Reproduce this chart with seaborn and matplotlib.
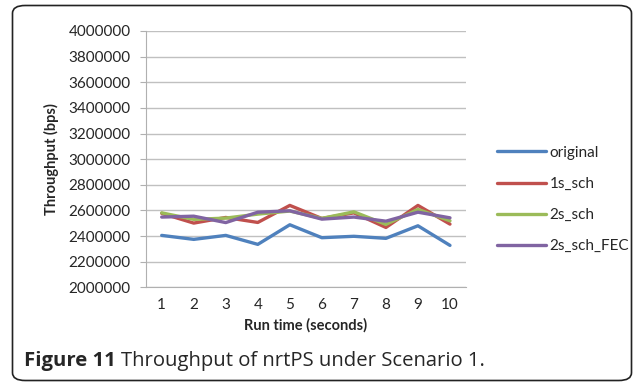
import matplotlib
matplotlib.use("Agg")
import matplotlib.pyplot as plt
from matplotlib.patches import FancyBboxPatch
import seaborn as sns
import pandas as pd

run_time = [1, 2, 3, 4, 5, 6, 7, 8, 9, 10]
original = [2405000, 2374000, 2405000, 2335000, 2488000, 2387000, 2398000, 2382000, 2480000, 2327000]
s1_sch = [2577000, 2501000, 2545000, 2506000, 2639000, 2537000, 2581000, 2467000, 2639000, 2493000]
s2_sch = [2581000, 2530000, 2540000, 2571000, 2595000, 2538000, 2589000, 2491000, 2608000, 2519000]
s2_sch_fec = [2548000, 2555000, 2505000, 2586000, 2597000, 2532000, 2548000, 2516000, 2586000, 2542000]
series_names = ["original", "1s_sch", "2s_sch", "2s_sch_FEC"]
colors = ["#4F81BD", "#C0504D", "#9BBB59", "#8064A2"]
y_ticks = [2000000, 2200000, 2400000, 2600000, 2800000, 3000000,
           3200000, 3400000, 3600000, 3800000, 4000000]

rows = []
for name, vals in zip(series_names, [original, s1_sch, s2_sch, s2_sch_fec]):
    for t, v in zip(run_time, vals):
        rows.append({"Run time": t, "Throughput": v, "Series": name})
df = pd.DataFrame(rows)

sns.set_style("white")
plt.rcParams["font.family"] = ["Lato", "DejaVu Sans"]

fig = plt.figure(figsize=(6.34, 3.86), dpi=100)
ax = fig.add_axes([0.2298, 0.2557, 0.735 - 0.2298, 0.9197 - 0.2557])

# rounded frame
frame = FancyBboxPatch((12.5 / 634, 5.5 / 386), 619 / 634, 375 / 386,
                       boxstyle="round,pad=0,rounding_size=0.02",
                       transform=fig.transFigure, fill=False,
                       edgecolor="#222222", linewidth=1.2, zorder=0)
fig.patches.append(frame)

sns.lineplot(data=df, x="Run time", y="Throughput", hue="Series",
             hue_order=series_names, palette=colors, linewidth=2.4,
             ax=ax, legend=True)

ax.set_xlim(0.5, 10.5)
ax.set_ylim(2000000, 4000000)
ax.set_yticks(y_ticks)
ax.set_yticklabels([str(v) for v in y_ticks])
ax.set_xticks(run_time)
ax.set_xticklabels([str(t) for t in run_time])
ax.yaxis.grid(True, color="#C0C0C0", linewidth=1.0)
ax.set_axisbelow(True)
for s in ["top", "right"]:
    ax.spines[s].set_visible(False)
ax.spines["left"].set_color("#B0B0B0")
ax.spines["bottom"].set_color("#B0B0B0")
ax.tick_params(axis="y", length=4, color="#B0B0B0", labelsize=11, pad=7, direction="out", left=True)
ax.tick_params(axis="x", length=0, labelsize=11, pad=8)
ax.set_xlabel("Run time (seconds)", fontsize=10.5, fontweight="bold", labelpad=4)
ax.set_ylabel("Throughput (bps)", fontsize=10.5, fontweight="bold", labelpad=7)

h, l = ax.get_legend_handles_labels()
ax.get_legend().remove()
leg = fig.legend(h, l, loc="upper left", bbox_to_anchor=(483 / 634, 1 - 132 / 386),
                 frameon=False, fontsize=11, handlelength=3.2, handletextpad=0.25,
                 labelspacing=1.12)

t1 = fig.text(24 / 634, 1 - 361 / 386, "Figure 11", fontsize=14.6, fontweight="bold",
              va="center", ha="left", family=["Open Sans", "DejaVu Sans"])
fig.canvas.draw()
bb = t1.get_window_extent()
fig.text((bb.x1 + 5) / 634, 1 - 361 / 386, "Throughput of nrtPS under Scenario 1.",
         fontsize=14.6, va="center", ha="left", family=["Open Sans", "DejaVu Sans"])

fig.savefig("out.png", dpi=100)
